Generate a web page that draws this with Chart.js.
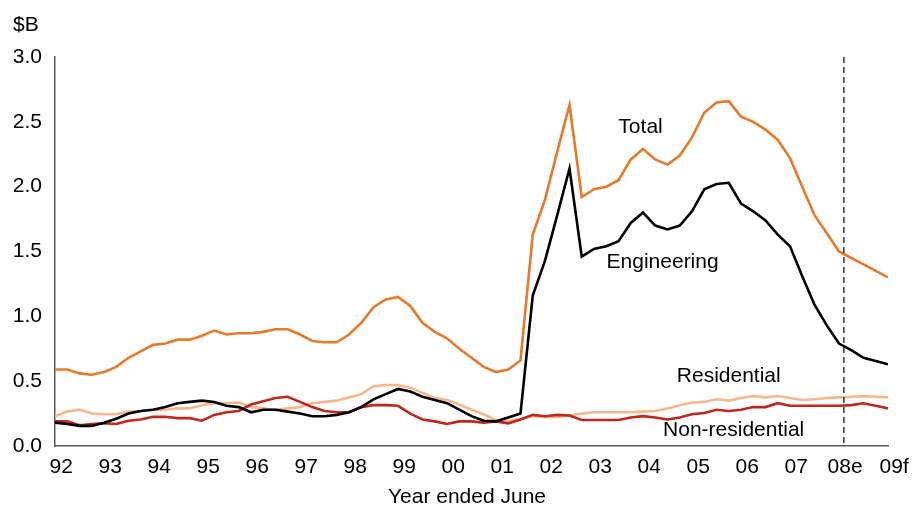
<!DOCTYPE html>
<html>
<head>
<meta charset="utf-8">
<script src="https://cdn.jsdelivr.net/npm/chart.js@4/dist/chart.umd.min.js"></script>
<style>
  body { margin: 0; background: #fff; }
  #wrap { width: 914px; height: 506px; }
</style>
</head>
<body>
<div id="wrap"><canvas id="chart" width="914" height="506"></canvas></div>
<script>
// quarterly, $B, year ended June (92 .. 09f)
const tickLabels = ['92', '93', '94', '95', '96', '97', '98', '99', '00',
    '01', '02', '03', '04', '05', '06', '07', '08e', '09f'];

const total = [
    0.59, 0.59, 0.56, 0.55, 0.57, 0.61, 0.68, 0.73, 0.78, 0.79, 0.82, 0.82,
    0.85, 0.89, 0.86, 0.87, 0.87, 0.88, 0.90, 0.90, 0.86, 0.81, 0.80, 0.80,
    0.86, 0.95, 1.07, 1.13, 1.15, 1.08, 0.95, 0.88, 0.83, 0.75, 0.68, 0.61,
    0.57, 0.59, 0.66, 1.63, 1.90, 2.27, 2.63, 1.92, 1.98, 2.00, 2.05, 2.21,
    2.29, 2.21, 2.17, 2.24, 2.38, 2.57, 2.65, 2.66, 2.54, 2.50, 2.44, 2.36,
    2.22, 2.00, 1.78, 1.64, 1.50, 1.45, 1.40, 1.35, 1.30
];
const engineering = [
    0.18, 0.17, 0.155, 0.155, 0.18, 0.21, 0.25, 0.27, 0.28, 0.30, 0.33, 0.34,
    0.35, 0.34, 0.31, 0.30, 0.26, 0.28, 0.28, 0.265, 0.25, 0.23, 0.23, 0.24,
    0.26, 0.30, 0.36, 0.40, 0.44, 0.42, 0.38, 0.355, 0.33, 0.28, 0.23, 0.195,
    0.19, 0.22, 0.25, 1.16, 1.43, 1.78, 2.14, 1.46, 1.52, 1.54, 1.58, 1.72,
    1.80, 1.70, 1.67, 1.70, 1.81, 1.98, 2.02, 2.03, 1.87, 1.81, 1.74, 1.63,
    1.54, 1.31, 1.09, 0.93, 0.79, 0.74, 0.68, 0.655, 0.63
];
const residential = [
    0.23, 0.265, 0.28, 0.25, 0.245, 0.245, 0.265, 0.27, 0.28, 0.28, 0.29, 0.29,
    0.315, 0.33, 0.33, 0.335, 0.30, 0.29, 0.28, 0.29, 0.30, 0.33, 0.34, 0.35,
    0.375, 0.40, 0.46, 0.47, 0.47, 0.45, 0.41, 0.37, 0.355, 0.32, 0.28, 0.245,
    0.20, 0.19, 0.21, 0.23, 0.225, 0.225, 0.235, 0.25, 0.26, 0.26, 0.26, 0.26,
    0.265, 0.27, 0.29, 0.315, 0.335, 0.34, 0.36, 0.35, 0.37, 0.385, 0.375, 0.385,
    0.37, 0.355, 0.36, 0.37, 0.375, 0.38, 0.385, 0.38, 0.375
];
const nonResidential = [
    0.19, 0.19, 0.16, 0.17, 0.175, 0.17, 0.195, 0.205, 0.225, 0.225, 0.215, 0.215,
    0.195, 0.24, 0.26, 0.27, 0.32, 0.345, 0.37, 0.38, 0.34, 0.30, 0.27, 0.26,
    0.26, 0.30, 0.315, 0.315, 0.31, 0.25, 0.205, 0.19, 0.17, 0.19, 0.19, 0.18,
    0.19, 0.175, 0.205, 0.24, 0.23, 0.24, 0.235, 0.20, 0.20, 0.20, 0.20, 0.22,
    0.23, 0.22, 0.205, 0.22, 0.245, 0.255, 0.28, 0.27, 0.28, 0.30, 0.30, 0.33,
    0.31, 0.31, 0.31, 0.31, 0.31, 0.315, 0.33, 0.31, 0.29
];

const FONT = 'Liberation Sans, Arial, sans-serif';
const points = arr => arr.map((v, i) => ({ x: i, y: v }));

// text labels, dashed forecast line, unit and axis title
const extras = {
    id: 'extras',
    afterDatasetsDraw(chart) {
        const { ctx, scales: { x, y } } = chart;
        ctx.save();

        ctx.strokeStyle = '#000';
        ctx.lineWidth = 1.2;
        ctx.setLineDash([6, 4]);
        ctx.beginPath();
        ctx.moveTo(x.getPixelForValue(64.4), y.getPixelForValue(3));
        ctx.lineTo(x.getPixelForValue(64.4), y.getPixelForValue(0));
        ctx.stroke();
        ctx.setLineDash([]);

        ctx.fillStyle = '#000';
        ctx.font = '21px ' + FONT;
        ctx.textAlign = 'center';
        ctx.textBaseline = 'middle';
        [['Total', 47.8, 2.46], ['Engineering', 49.6, 1.42],
         ['Residential', 55.0, 0.54], ['Non-residential', 55.4, 0.12]]
            .forEach(([t, qx, vy]) => ctx.fillText(t, x.getPixelForValue(qx), y.getPixelForValue(vy)));

        ctx.textAlign = 'left';
        ctx.fillText('$B', 13, 25);
        ctx.textAlign = 'center';
        ctx.fillText('Year ended June', 467, 497);
        ctx.restore();
    }
};

new Chart(document.getElementById('chart'), {
    type: 'line',
    data: {
        datasets: [
            { label: 'Total', data: points(total), borderColor: '#E8782A' },
            { label: 'Engineering', data: points(engineering), borderColor: '#000000' },
            { label: 'Non-residential', data: points(nonResidential), borderColor: '#C0281F' },
            { label: 'Residential', data: points(residential), borderColor: '#F5B88E' }
        ]
    },
    options: {
        responsive: false,
        animation: false,
        layout: { padding: { top: 57, right: 26, left: 0, bottom: 0 } },
        elements: {
            point: { radius: 0 },
            line: { borderWidth: 2.6, tension: 0, fill: false }
        },
        plugins: { legend: { display: false }, tooltip: { enabled: false } },
        scales: {
            x: {
                type: 'linear',
                min: 0,
                max: 68,
                grid: { display: false, drawTicks: false },
                border: { display: true, color: '#595959', width: 1.5 },
                afterFit: s => { s.height = 60; s.paddingLeft = 0; s.paddingRight = 0; },
                afterBuildTicks: s => {
                    s.ticks = tickLabels.map((_, k) => ({ value: 4 * k + 0.5 }));
                },
                ticks: {
                    autoSkip: false,
                    maxRotation: 0,
                    padding: 9,
                    color: '#000',
                    font: { family: FONT, size: 21 },
                    callback: (v, i) => tickLabels[i]
                }
            },
            y: {
                min: 0,
                max: 3,
                grid: { display: false, drawTicks: false },
                border: { display: true, color: '#595959', width: 1.5 },
                afterFit: s => { s.width = 55; },
                ticks: {
                    stepSize: 0.5,
                    padding: 13,
                    color: '#000',
                    font: { family: FONT, size: 21 },
                    callback: v => v.toFixed(1)
                }
            }
        }
    },
    plugins: [extras]
});
</script>
</body>
</html>
